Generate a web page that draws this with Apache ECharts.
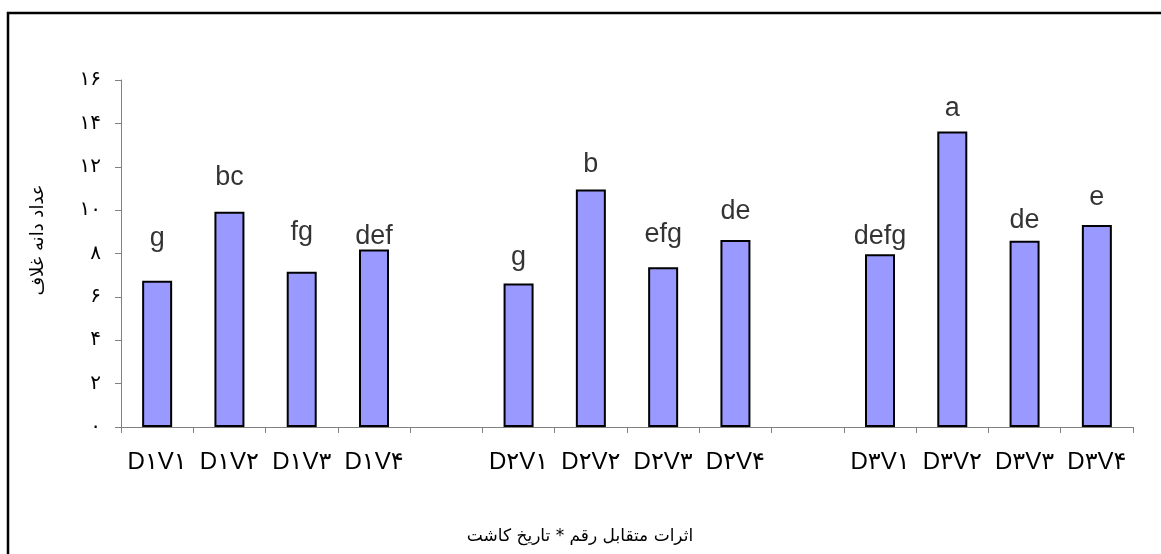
<!DOCTYPE html>
<html>
<head>
<meta charset="utf-8">
<script src="https://cdn.jsdelivr.net/npm/echarts@6/dist/echarts.min.js"></script>
<style>
html,body{margin:0;padding:0;background:#fff;}
#chart{width:1161px;height:554px;}
</style>
</head>
<body>
<div id="chart"></div>
<script>
const categories = ['D۱V۱','D۱V۲','D۱V۳','D۱V۴','','D۲V۱','D۲V۲','D۲V۳','D۲V۴','','D۳V۱','D۳V۲','D۳V۳','D۳V۴'];
const values = [6.74, 9.92, 7.16, 8.19, '-', 6.62, 10.95, 7.37, 8.62, '-', 7.97, 13.63, 8.59, 9.31];
const letters = ['g','bc','fg','def','','g','b','efg','de','','defg','a','de','e'];
const letterY = [8.7, 11.5, 8.95, 8.8, '-', 7.8, 12.1, 8.87, 9.95, '-', 8.8, 14.7, 9.53, 10.56];
const yTickLabels = ['۰','۲','۴','۶','۸','۱۰','۱۲','۱۴','۱۶'];
const yTitle = 'عداد دانه غلاف';
const xTitle = 'اثرات متقابل رقم * تاریخ کاشت';

const chart = echarts.init(document.getElementById('chart'));
chart.setOption({
  animation: false,
  backgroundColor: '#fff',
  grid: {left: 121, right: 28, top: 80, bottom: 127},
  xAxis: {
    type: 'category',
    data: categories,
    boundaryGap: true,
    axisLine: {show: true, lineStyle: {color: '#808080', width: 1}},
    axisTick: {show: true, length: 6, interval: 0, lineStyle: {color: '#808080'}},
    axisLabel: {interval: 0, margin: 23, fontSize: 24, color: '#000', fontFamily: 'Liberation Sans, DejaVu Sans'}
  },
  yAxis: {
    type: 'value',
    min: 0, max: 16, interval: 2,
    axisLine: {show: true, lineStyle: {color: '#808080', width: 1}},
    axisTick: {show: true, length: 6, lineStyle: {color: '#808080'}},
    splitLine: {show: false},
    axisLabel: {
      margin: 20, fontSize: 20, color: '#000', fontFamily: 'DejaVu Sans',
      formatter: v => yTickLabels[Math.round(v / 2)]
    }
  },
  graphic: [
    {type: 'rect', shape: {x: 8, y: 13, width: 1200, height: 600}, style: {fill: 'none', stroke: '#000', lineWidth: 2.5}, z: 100},
    {type: 'text', x: 38, y: 240, rotation: Math.PI / 2,
     style: {text: yTitle, fontSize: 18, fill: '#000', fontFamily: 'DejaVu Sans', align: 'center', verticalAlign: 'middle'}},
    {type: 'text', x: 580, y: 537,
     style: {text: xTitle, fontSize: 17, fill: '#000', fontFamily: 'DejaVu Sans', align: 'center', verticalAlign: 'middle'}}
  ],
  series: [
    {
      type: 'bar',
      data: values,
      barWidth: 30,
      itemStyle: {color: '#9999FF', borderColor: '#000', borderWidth: 2}
    },
    {
      type: 'scatter',
      data: letterY,
      symbolSize: 0,
      silent: true,
      label: {
        show: true, position: 'inside', fontSize: 27, color: '#000',
        fontFamily: 'Liberation Sans',
        formatter: p => letters[p.dataIndex]
      }
    }
  ]
});
</script>
</body>
</html>
